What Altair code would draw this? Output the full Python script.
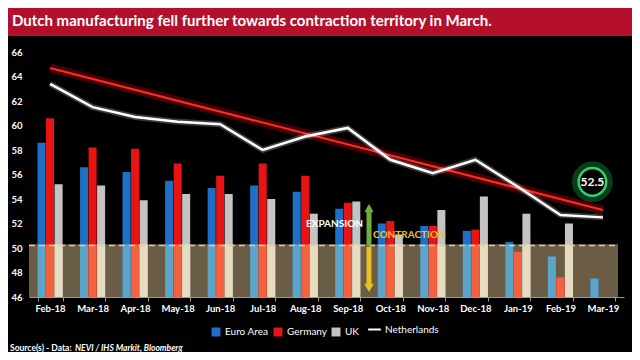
import altair as alt
import pandas as pd

months = ["Feb-18", "Mar-18", "Apr-18", "May-18", "Jun-18", "Jul-18", "Aug-18",
          "Sep-18", "Oct-18", "Nov-18", "Dec-18", "Jan-19", "Feb-19", "Mar-19"]
series_names = ["Euro Area", "Germany", "UK"]
euro_area = [58.6, 56.6, 56.2, 55.5, 54.9, 55.1, 54.6, 53.2, 52.0, 51.8, 51.4, 50.5, 49.3, 47.5]
germany = [60.6, 58.2, 58.1, 56.9, 55.9, 56.9, 55.9, 53.7, 52.2, 51.8, 51.5, 49.7, 47.6, None]
uk = [55.2, 55.1, 53.9, 54.4, 54.4, 54.0, 52.8, 53.8, 51.1, 53.1, 54.2, 52.8, 52.0, None]
netherlands = [63.4, 61.5, 60.7, 60.3, 60.1, 58.0, 59.1, 59.8, 57.2, 56.1, 57.2, 55.0, 52.7, 52.5]
trend_months = ["Feb-18", "Mar-19"]
trend_values = [64.7, 53.1]
threshold = 50.3
y_ticks = [46, 48, 50, 52, 54, 56, 58, 60, 62, 64, 66]

bar_colors = ["#1f6fc6", "#e81414", "#c4c4c4"]
low_colors = ["#5ca4c8", "#f2623e", "#e6dcc0"]

title_text = "Dutch manufacturing fell further towards contraction territory in March."

rows = []
for name, vals in zip(series_names, [euro_area, germany, uk]):
    for m, v in zip(months, vals):
        if v is not None:
            rows.append({"month": m, "series": name, "value": v})
bars_df = pd.DataFrame(rows)
nl_df = pd.DataFrame({"month": months, "value": netherlands, "name": "Netherlands"})
trend_df = pd.DataFrame({"month": trend_months, "value": trend_values})
one = pd.DataFrame({"a": [0]})

FONT = "Lato"
W, H = 595, 245

xscale = alt.Scale(domain=months, paddingInner=0.41, paddingOuter=0.2)
yscale = alt.Scale(domain=[46, 66], zero=False, nice=False)
xoff = alt.XOffset("series:N", scale=alt.Scale(domain=series_names, paddingInner=0.06))

X = alt.X("month:N", scale=xscale, sort=months, title=None,
          axis=alt.Axis(labelAngle=0, labelColor="white", labelFont=FONT, labelFontSize=9.5,
                        labelFontWeight="bold", domainColor="#9a9a9a", tickColor="#9a9a9a",
                        tickSize=4, tickBand="extent", labelPadding=2))
Y = alt.Y("value:Q", scale=yscale, title=None,
          axis=alt.Axis(values=y_ticks, tickCount=len(y_ticks), labelColor="white", labelFont=FONT,
                        labelFontSize=9.5, labelFontWeight="bold", domain=False, ticks=False,
                        grid=False, labelPadding=7, labelOverlap=False))

banner = alt.Chart(one).mark_rect(color="#b5102b").encode(
    x=alt.value(-21), x2=alt.value(W + 8), y=alt.value(-44), y2=alt.value(-16))
title = alt.Chart(one).mark_text(text=title_text, color="white", font=FONT, fontSize=15,
                                 fontWeight="bold", align="left", baseline="middle").encode(
    x=alt.value(-17), y=alt.value(-31))

band = alt.Chart(one).mark_rect(color="#6b5d45").encode(
    x=alt.value(0), x2=alt.value(W - 6), y=alt.datum(46, scale=yscale), y2=alt.datum(threshold))

bars = alt.Chart(bars_df).mark_bar().encode(
    x=X, xOffset=xoff, y=Y, y2=alt.datum(46),
    color=alt.Color("series:N", scale=alt.Scale(domain=series_names, range=bar_colors),
                    legend=alt.Legend(orient="none", legendX=182, legendY=275, direction="horizontal",
                                      title=None, labelColor="white", labelFont=FONT,
                                      labelFontSize=10, symbolType="square", symbolSize=80,
                                      symbolStrokeWidth=0, columnPadding=4, labelOffset=4,
                                      padding=0)))

low_layers = []
for name, col in zip(series_names, low_colors):
    low_layers.append(
        alt.Chart(bars_df).transform_filter(alt.datum.series == name)
        .transform_calculate(low=f"min(datum.value, {threshold})")
        .mark_bar(color=col).encode(
            x=alt.X("month:N", scale=xscale, sort=months), xOffset=xoff,
            y=alt.Y("low:Q", scale=yscale), y2=alt.datum(46)))

dash = alt.Chart(one).mark_rule(color="#d8ccaa", strokeDash=[6, 4], strokeWidth=1.5).encode(
    x=alt.value(0), x2=alt.value(W - 6), y=alt.datum(50.2, scale=yscale))

trend_glow = alt.Chart(trend_df).mark_line(color="#ff0000", strokeWidth=9, opacity=0.28).encode(
    x=alt.X("month:N", scale=xscale, sort=months), y=alt.Y("value:Q", scale=yscale))
trend = alt.Chart(trend_df).mark_line(color="#ff2a2a", strokeWidth=2).encode(
    x=alt.X("month:N", scale=xscale, sort=months), y=alt.Y("value:Q", scale=yscale))

nl_glow = alt.Chart(nl_df).mark_line(color="#ffffff", strokeWidth=6, opacity=0.22).encode(
    x=alt.X("month:N", scale=xscale, sort=months), y=alt.Y("value:Q", scale=yscale))
nl_line = alt.Chart(nl_df).mark_line(strokeWidth=2.5).encode(
    x=alt.X("month:N", scale=xscale, sort=months), y=alt.Y("value:Q", scale=yscale),
    stroke=alt.Stroke("name:N", scale=alt.Scale(domain=["Netherlands"], range=["#ffffff"]),
                      legend=alt.Legend(orient="none", legendX=338, legendY=270, title=None,
                                        labelColor="white", labelFont=FONT, labelFontSize=10,
                                        symbolType="stroke", symbolStrokeWidth=2, symbolSize=160,
                                        labelOffset=3, padding=0)))

AX = 340  # pixel x of the expansion/contraction arrow (between Sep-18 and Oct-18)
up_shaft = alt.Chart(one).mark_rule(color="#6fae3e", strokeWidth=5).encode(
    x=alt.value(AX), y=alt.datum(50.2, scale=yscale), y2=alt.datum(53.0))
up_head = alt.Chart(one).mark_point(shape="triangle-up", filled=True, color="#6fae3e",
                                    size=90, opacity=1).encode(x=alt.value(AX), y=alt.datum(53.25, scale=yscale))
dn_shaft = alt.Chart(one).mark_rule(color="#e8c21e", strokeWidth=5).encode(
    x=alt.value(AX), y=alt.datum(50.1, scale=yscale), y2=alt.datum(47.0))
dn_head = alt.Chart(one).mark_point(shape="triangle-down", filled=True, color="#e8c21e",
                                    size=90, opacity=1).encode(x=alt.value(AX), y=alt.datum(46.75, scale=yscale))

exp_text = alt.Chart(one).mark_text(text="EXPANSION", color="white", font=FONT, fontSize=10,
                                    fontWeight="bold", align="right", baseline="middle").encode(
    x=alt.value(AX - 6), y=alt.datum(52.0, scale=yscale))
con_text = alt.Chart(one).mark_text(text="CONTRACTION", color="#e8c230", font=FONT, fontSize=10,
                                    fontWeight="bold", align="left", baseline="middle").encode(
    x=alt.value(AX + 4), y=alt.datum(51.05, scale=yscale))

last_df = pd.DataFrame({"month": [months[-1]], "value": [netherlands[-1]], "pos": [55.4]})
cx = alt.X("month:N", scale=xscale, sort=months, bandPosition=0.08)
cy = alt.Y("pos:Q", scale=yscale)
circle_glow = alt.Chart(last_df).mark_point(shape="circle", filled=False, color="#1faa4f",
                                            strokeWidth=10, size=950, opacity=0.35).encode(x=cx, y=cy)
circle_ring = alt.Chart(last_df).mark_point(shape="circle", filled=False, stroke="#2bd36a",
                                            fill="#000000", fillOpacity=1, strokeWidth=2.5,
                                            size=760, opacity=1).encode(x=cx, y=cy)
circle_text = alt.Chart(last_df).mark_text(color="white", font=FONT, fontSize=12, fontWeight="bold",
                                           baseline="middle").encode(
    x=cx, y=cy, text=alt.Text("value:Q", format=".1f"))

src1 = alt.Chart(one).mark_text(text="Source(s) - Data:", color="white", font=FONT, fontSize=8.5,
                                fontWeight="bold", align="left", baseline="middle").encode(
    x=alt.value(-19), y=alt.value(296))
src2 = alt.Chart(one).mark_text(text="NEVI / IHS Markit, Bloomberg", color="white", font=FONT,
                                fontSize=8.5, fontWeight="bold", fontStyle="italic", align="left",
                                baseline="middle").encode(x=alt.value(46), y=alt.value(296))

chart = alt.layer(
    banner, title, band, bars, *low_layers, dash, trend_glow, trend, nl_glow, nl_line,
    up_shaft, up_head, dn_shaft, dn_head, exp_text, con_text,
    circle_glow, circle_ring, circle_text, src1, src2,
).properties(
    width=W, height=H,
    autosize=alt.AutoSizeParams(type="none"),
    padding={"left": 21, "top": 44, "right": 8, "bottom": 55},
).configure(background="#000000").configure_view(stroke=None).configure_axisY(
    labelOverlap=False, tickCount=len(y_ticks), labelColor="white", labelFont=FONT,
    labelFontSize=9.5, labelFontWeight="bold", domain=False, ticks=False, grid=False, labelPadding=7
).configure_axisX(grid=False)

chart.save("out.html", embed_options={"renderer": "svg", "actions": False})
